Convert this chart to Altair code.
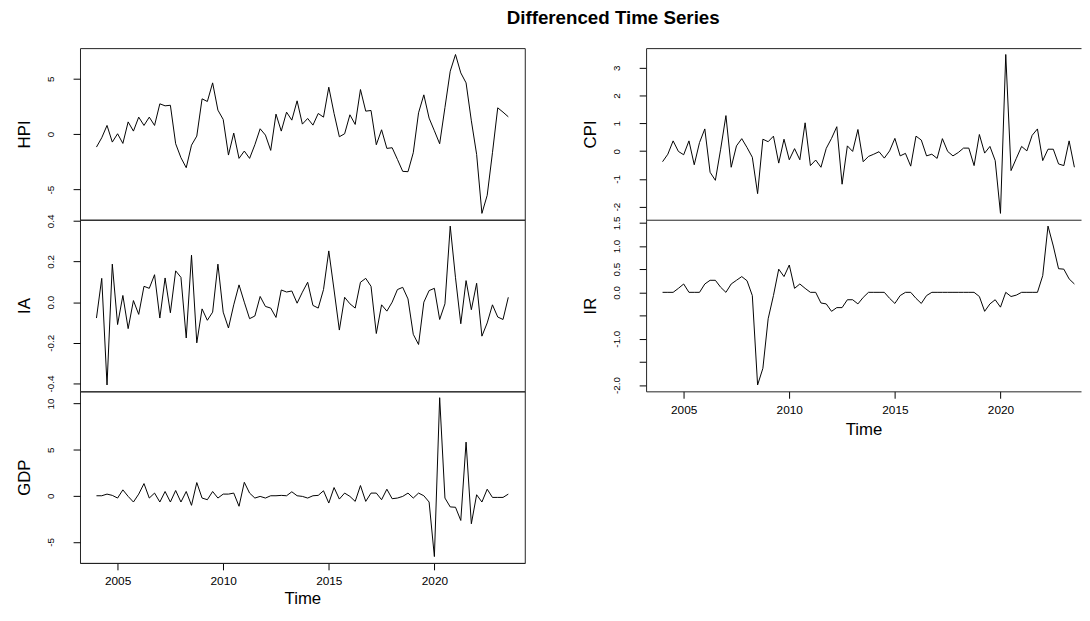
import altair as alt
import pandas as pd

# quarterly differenced series, 2004 Q1 .. 2023 Q3
start_year = 2004.0
hpi = [-1.17, -0.33, 0.78, -0.72, 0.03, -0.84, 1.1, 0.27, 1.53, 0.78,
       1.53, 0.78, 2.73, 2.55, 2.6, -0.87, -2.13, -3.03, -1.0, -0.18,
       3.18, 2.94, 4.62, 2.16, 1.32, -1.89, 0.09, -2.19, -1.53, -2.19,
       -0.96, 0.48, -0.09, -1.47, 1.8, 0.27, 1.98, 1.26, 3.0, 0.9,
       1.41, 0.81, 1.86, 1.53, 4.23, 1.86, -0.24, 0.03, 1.74, 0.87,
       4.02, 2.07, 2.13, -0.96, 0.39, -1.29, -1.23, -2.28, -3.36, -3.39,
       -1.68, 1.92, 3.54, 1.44, 0.3, -0.87, 2.4, 5.67, 7.18, 5.52,
       4.62, 1.2, -1.83, -7.15, -5.52, -1.68, 2.37, 1.98, 1.56]
ia = [-0.078, 0.117, -0.407, 0.187, -0.11, 0.033, -0.13, 0.008, -0.06, 0.078,
      0.068, 0.135, -0.078, 0.119, -0.052, 0.154, 0.122, -0.176, 0.231, -0.2,
      -0.033, -0.089, -0.049, 0.187, -0.049, -0.127, -0.013, 0.085, 0.0, -0.081,
      -0.068, 0.028, -0.021, -0.029, -0.075, 0.06, 0.05, 0.055, -0.005, 0.049,
      0.098, -0.016, -0.029, 0.062, 0.252, 0.06, -0.137, 0.024, -0.008, -0.029,
      0.098, 0.117, 0.078, -0.154, -0.013, -0.044, 0.0, 0.062, 0.073, 0.016,
      -0.158, -0.208, 0.0, 0.057, 0.068, -0.085, -0.008, 0.374, 0.12, -0.106,
      0.106, -0.037, 0.093, -0.167, -0.102, -0.013, -0.073, -0.085, 0.024]
gdp = [0.0, 0.0, 0.18, 0.04, -0.25, 0.64, -0.07, -0.68, 0.18, 1.32,
       -0.25, 0.29, -0.68, 0.46, -0.68, 0.57, -0.68, 0.46, -1.04, 1.43,
       -0.25, -0.43, 0.46, -0.25, 0.18, 0.18, 0.29, -1.14, 1.46, 0.29,
       -0.25, -0.07, -0.25, 0.0, 0.0, 0.04, 0.0, 0.43, 0.0, -0.07,
       -0.25, 0.0, 0.04, 0.54, -0.79, 0.89, -0.36, 0.29, -0.07, -0.61,
       1.11, -0.61, 0.29, 0.29, -0.43, 0.71, -0.32, -0.25, -0.07, 0.29,
       -0.25, 0.29, 0.0, -0.68, -6.6, 10.64, -0.25, -1.21, -1.25, -2.68,
       5.82, -3.04, 0.11, -0.68, 0.71, -0.18, -0.18, -0.18, 0.18]
cpi = [-0.38, -0.11, 0.37, -0.01, -0.13, 0.37, -0.49, 0.31, 0.80, -0.76,
       -1.05, 0.07, 1.28, -0.58, 0.19, 0.45, 0.13, -0.22, -1.53, 0.43,
       0.34, 0.54, -0.43, 0.43, -0.31, 0.09, -0.31, 1.02, -0.52, -0.32,
       -0.58, 0.10, 0.46, 0.88, -1.19, 0.19, -0.01, 0.78, -0.38, -0.19,
       -0.11, -0.02, -0.25, 0.01, 0.46, -0.17, -0.08, -0.54, 0.54, 0.40,
       -0.17, -0.11, -0.26, 0.45, -0.01, -0.17, -0.05, 0.11, 0.11, -0.52,
       0.60, -0.07, 0.17, -0.34, -2.24, 3.48, -0.70, -0.26, 0.17, 0.01,
       0.57, 0.80, -0.34, 0.07, 0.07, -0.46, -0.52, 0.37, -0.58]
ir = [0.0, 0.0, 0.0, 0.086, 0.18, 0.0, 0.0, 0.0, 0.18, 0.26,
      0.26, 0.11, 0.0, 0.18, 0.26, 0.34, 0.25, -0.07, -2.0, -1.64,
      -0.57, -0.07, 0.5, 0.34, 0.59, 0.086, 0.18, 0.086, 0.0, 0.0,
      -0.23, -0.25, -0.41, -0.33, -0.33, -0.16, -0.16, -0.25, -0.11, 0.0,
      0.0, 0.0, 0.0, -0.13, -0.24, -0.07, 0.0, 0.0, -0.13, -0.24,
      -0.07, 0.0, 0.0, 0.0, 0.0, 0.0, 0.0, 0.0, 0.0, 0.0,
      -0.09, -0.41, -0.25, -0.16, -0.32, 0.0, -0.09, -0.06, 0.0, 0.0,
      0.0, 0.0, 0.36, 1.43, 1.0, 0.51, 0.5, 0.29, 0.18]

hpi_ticks = [-5, 0, 5]
ia_ticks = [-0.4, -0.2, 0.0, 0.2, 0.4]
gdp_ticks = [-5, 0, 5, 10]
cpi_ticks = [-2, -1, 0, 1, 2, 3]
ir_ticks = [-2.0, -1.5, -1.0, -0.5, 0.0, 0.5, 1.0, 1.5]
ir_hidden = [-1.5, -0.5]
year_ticks = [2005, 2010, 2015, 2020]

FONT = "Liberation Sans"
FRAME = "#222222"
W = 451          # left column panel width
W_R = 441        # right column panel width (cut at the page edge)
H = 174
t_min = start_year
t_max = start_year + (len(hpi) - 1) / 4
pad_t = 0.04 * (t_max - t_min)
x_dom = [t_min - pad_t, t_max + pad_t]
px_per_year = W / (x_dom[1] - x_dom[0])
x_dom_r = [x_dom[0], x_dom[0] + W_R / px_per_year]


def y_axis(name, ticks, fmt, hidden=None, domain=False):
    if fmt == "int":
        lab = "replace(format(datum.value, 'd'), '\u2212', '-')"
    else:
        lab = "replace(format(datum.value, '.1f'), '\u2212', '-')"
    if hidden:
        cond = " || ".join(f"abs(datum.value - ({h})) < 1e-6" for h in hidden)
        lab = f"({cond}) ? '' : {lab}"
    return alt.Axis(values=ticks, labelExpr=lab, title=name,
                    titleX=-50.8, titleY=H / 2, titleAngle=270,
                    titleAlign="center", titleBaseline="alphabetic",
                    titleFontSize=17, titleFontWeight="normal", titleFont=FONT,
                    titleColor="black",
                    labelAngle=270, labelAlign="center", labelBaseline="alphabetic",
                    labelPadding=20, labelFontSize=10, labelFont=FONT,
                    labelColor="black", labelOverlap=False, labelFlush=False,
                    labelBound=False,
                    tickSize=7, tickColor="black", domain=domain,
                    domainColor=FRAME, grid=False)


def time_axis(width, title_y):
    return alt.Axis(values=year_ticks, format="d", title="Time",
                    titleFontSize=17, titleFontWeight="normal", titleFont=FONT,
                    titleColor="black", titleY=title_y, titleX=width / 2,
                    titleBaseline="alphabetic", titleAlign="center",
                    labelFontSize=12, labelFont=FONT, labelColor="black",
                    labelPadding=6, labelFlush=False, labelOverlap=False,
                    tickSize=7, tickColor="black", domain=True,
                    domainColor=FRAME, grid=False)


def edge_axis():
    return alt.Axis(orient="top", labels=False, ticks=False, title=None,
                    domain=True, domainColor=FRAME, grid=False)


def frame_df(values):
    return pd.DataFrame({"t": [start_year + i / 4 for i in range(len(values))],
                         "v": values})


def y_scale(values):
    lo, hi = min(values), max(values)
    ext = 0.04 * (hi - lo)
    return alt.Scale(domain=[lo - ext, hi + ext], nice=False, zero=False)


def left_panel(name, values, ticks, fmt, bottom=False):
    return alt.Chart(frame_df(values)).mark_line(color="black", strokeWidth=1).encode(
        x=alt.X("t:Q", scale=alt.Scale(domain=x_dom, nice=False, zero=False),
                axis=time_axis(W, 41) if bottom else None),
        y=alt.Y("v:Q", scale=y_scale(values), axis=y_axis(name, ticks, fmt)),
    ).properties(width=W, height=H)


xs_r = alt.Scale(domain=x_dom_r, nice=False, zero=False)

cpi_chart = alt.Chart(frame_df(cpi)).mark_line(color="black", strokeWidth=1).encode(
    x=alt.X("t:Q", scale=xs_r, axis=edge_axis()),
    y=alt.Y("v:Q", scale=y_scale(cpi), axis=y_axis("CPI", cpi_ticks, "int", domain=True)),
).properties(width=W_R, height=H, view=alt.ViewBackground(stroke="transparent"))

ir_yaxis = y_axis("IR", ir_ticks, "dec", hidden=ir_hidden, domain=True)
ir_base = alt.Chart(frame_df(ir))
ir_line = ir_base.mark_line(color="black", strokeWidth=1).encode(
    x=alt.X("t:Q", scale=xs_r, axis=time_axis(W_R, 44)),
    y=alt.Y("v:Q", scale=y_scale(ir), axis=ir_yaxis),
)
ir_top = ir_base.mark_line(opacity=0).encode(
    x=alt.X("t:Q", scale=xs_r, axis=edge_axis()),
    y=alt.Y("v:Q", scale=y_scale(ir), axis=ir_yaxis),
)
ir_chart = alt.layer(ir_line, ir_top).resolve_axis(x="independent").properties(
    width=W_R, height=H, view=alt.ViewBackground(stroke="transparent"))

left = alt.vconcat(
    left_panel("HPI", hpi, hpi_ticks, "int"),
    left_panel("IA", ia, ia_ticks, "dec"),
    left_panel("GDP", gdp, gdp_ticks, "int", bottom=True),
    spacing=0, bounds="flush",
)
right = alt.vconcat(cpi_chart, ir_chart, spacing=0, bounds="flush")

chart = alt.hconcat(left, right, spacing=56).properties(
    title=alt.TitleParams("Differenced Time Series", fontSize=19,
                          fontWeight="bold", font=FONT, color="black",
                          anchor="start", dx=498, offset=20),
    padding={"left": 7, "top": -3.5, "right": 0, "bottom": -3.5},
).configure(background="white").configure_view(stroke=FRAME, strokeWidth=1)

chart.save("out.html", embed_options={"renderer": "svg", "actions": False})
